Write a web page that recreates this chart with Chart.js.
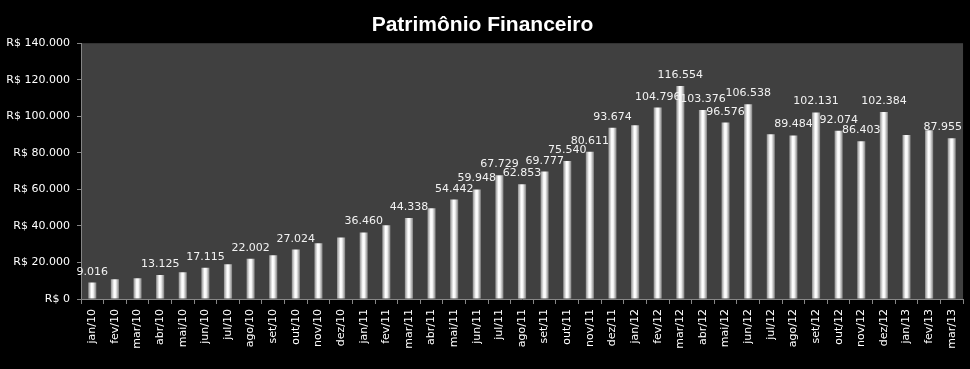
<!DOCTYPE html>
<html>
<head>
<meta charset="utf-8">
<script src="https://cdn.jsdelivr.net/npm/chart.js@4/dist/chart.umd.min.js"></script>
<style>
  html, body { margin: 0; padding: 0; background: #000; }
  #wrap { width: 970px; height: 369px; }
</style>
</head>
<body>
<div id="wrap"><canvas id="barChart"></canvas></div>
<script>
const months = [
  "jan/10", "fev/10", "mar/10", "abr/10", "mai/10", "jun/10", "jul/10", "ago/10", "set/10", "out/10", "nov/10", "dez/10",
  "jan/11", "fev/11", "mar/11", "abr/11", "mai/11", "jun/11", "jul/11", "ago/11", "set/11", "out/11", "nov/11", "dez/11",
  "jan/12", "fev/12", "mar/12", "abr/12", "mai/12", "jun/12", "jul/12", "ago/12", "set/12", "out/12", "nov/12", "dez/12",
  "jan/13", "fev/13", "mar/13"
];
const patrimonio = [
  9016, 10800, 11300, 13125, 14600, 17115, 19000, 22002, 23900, 27024, 30500, 33700,
  36460, 40400, 44338, 49600, 54442, 59948, 67729, 62853, 69777, 75540, 80611, 93674,
  95100, 104796, 116554, 103376, 96576, 106538, 90200, 89484, 102131, 92074, 86403, 102384,
  89700, 92400, 87955
];
// months that carry a value label in the original
const labelled = [
  "jan/10", "abr/10", "jun/10", "ago/10", "out/10", "jan/11", "mar/11", "mai/11", "jun/11", "jul/11",
  "ago/11", "set/11", "out/11", "nov/11", "dez/11", "fev/12", "mar/12", "abr/12", "mai/12", "jun/12",
  "ago/12", "set/12", "out/12", "nov/12", "dez/12", "mar/13"
];
const yTicks = [0, 20000, 40000, 60000, 80000, 100000, 120000, 140000];

function fmt(v) {
  return String(v).replace(/\B(?=(\d{3})+(?!\d))/g, ".");
}

const background = {
  id: "background",
  beforeDraw(chart) {
    const { ctx, chartArea: a } = chart;
    ctx.save();
    ctx.fillStyle = "#000";
    ctx.fillRect(0, 0, chart.width, chart.height);
    ctx.fillStyle = "#404040";
    ctx.fillRect(a.left, a.top, a.right - a.left, a.bottom - a.top);
    ctx.restore();
  }
};

const valueLabels = {
  id: "valueLabels",
  afterDatasetsDraw(chart) {
    const { ctx, chartArea } = chart;
    const meta = chart.getDatasetMeta(0);
    ctx.save();
    ctx.font = "11px 'DejaVu Sans'";
    ctx.fillStyle = "#f2f2f2";
    ctx.textAlign = "center";
    ctx.textBaseline = "alphabetic";
    meta.data.forEach((bar, i) => {
      if (!labelled.includes(months[i])) return;
      const txt = fmt(patrimonio[i]);
      const half = ctx.measureText(txt).width / 2;
      // keep the label inside the plot area, as the original does at the right edge
      const x = Math.min(bar.x, chartArea.right - half - 1);
      ctx.fillText(txt, x, bar.y - 8);
    });
    ctx.restore();
  }
};

const ctx = document.getElementById("barChart").getContext("2d");
new Chart(ctx, {
  type: "bar",
  data: {
    labels: months,
    datasets: [{
      label: "Patrimônio",
      data: patrimonio,
      borderWidth: 0,
      categoryPercentage: 1,
      barPercentage: 0.36,
      backgroundColor: function (c) {
        const chart = c.chart;
        const x = chart.scales && chart.scales.x;
        if (!x || !chart.chartArea) return "#e0e0e0";
        const cx = x.getPixelForValue(c.dataIndex);
        const w = (chart.chartArea.right - chart.chartArea.left) / months.length * 0.36;
        const g = chart.ctx.createLinearGradient(cx - w / 2, 0, cx + w / 2, 0);
        g.addColorStop(0, "#909090");
        g.addColorStop(0.4, "#ffffff");
        g.addColorStop(0.6, "#f6f6f6");
        g.addColorStop(1, "#808080");
        return g;
      }
    }]
  },
  options: {
    responsive: true,
    maintainAspectRatio: false,
    animation: false,
    layout: { padding: { left: 0, right: 5, top: 0, bottom: 0 } },
    plugins: {
      legend: { display: false },
      tooltip: { enabled: false },
      title: {
        display: true,
        text: "Patrimônio Financeiro",
        color: "#ffffff",
        font: { family: "'Liberation Sans'", size: 21, weight: "bold" },
        padding: { top: 13, bottom: 5 }
      }
    },
    scales: {
      y: {
        min: 0,
        max: 140000,
        afterBuildTicks: s => { s.ticks = yTicks.map(v => ({ value: v })); },
        afterFit: s => { s.width = 81; },
        grid: { drawOnChartArea: false, color: "#868686", tickLength: 4, tickColor: "#868686" },
        border: { color: "#868686", width: 1 },
        ticks: {
          color: "#ffffff",
          padding: 7,
          font: { family: "'DejaVu Sans'", size: 11 },
          callback: v => "R$ " + fmt(v)
        }
      },
      x: {
        afterFit: s => { s.height = 70; },
        grid: { drawOnChartArea: false, offset: true, color: "#868686", tickLength: 5, tickColor: "#868686" },
        border: { color: "#868686", width: 1 },
        ticks: {
          color: "#ffffff",
          autoSkip: false,
          minRotation: 90,
          maxRotation: 90,
          padding: 5,
          font: { family: "'DejaVu Sans'", size: 11 }
        }
      }
    }
  },
  plugins: [background, valueLabels]
});
</script>
</body>
</html>
